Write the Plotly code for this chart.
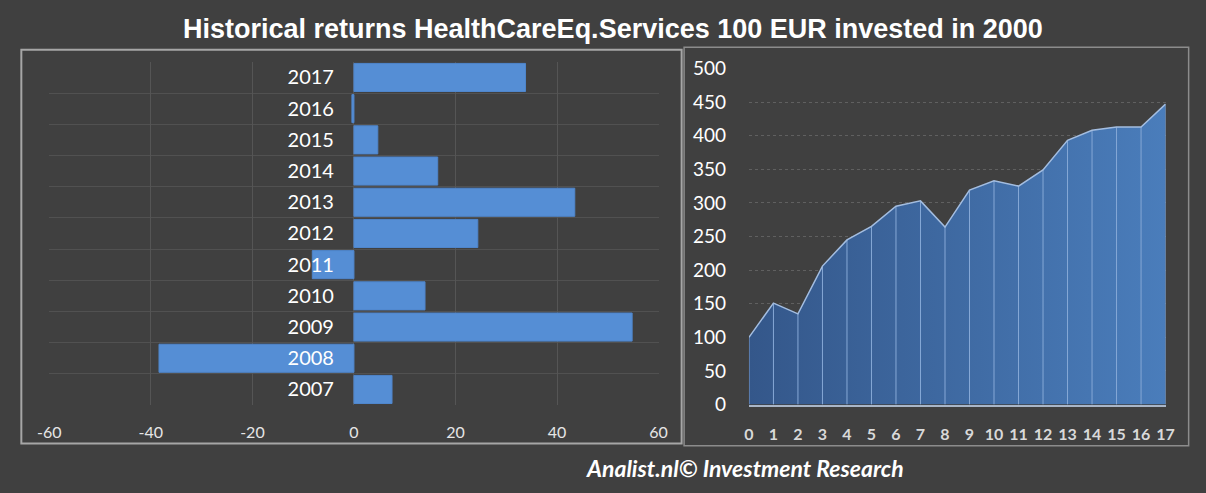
import plotly.graph_objects as go

# ---- data ----
years = ["2007", "2008", "2009", "2010", "2011", "2012", "2013", "2014", "2015", "2016", "2017"]
returns = [7.5, -38.4, 54.8, 14.0, -8.2, 24.4, 43.5, 16.5, 4.7, -0.4, 33.8]

periods = list(range(18))
values = [100, 151, 135, 206, 245, 265, 295, 303, 264, 319, 333, 325, 349, 393, 408, 413, 413, 447]

x_ticks_left = [-60, -40, -20, 0, 20, 40, 60]
y_ticks_right = [0, 50, 100, 150, 200, 250, 300, 350, 400, 450, 500]

title = "Historical returns HealthCareEq.Services 100 EUR invested in 2000"
footer = "Analist.nl© Investment Research"

# ---- layout geometry ----
W, H = 1206, 493
BG = "#404040"

def px_x(p):
    return p / W

def px_y(p):
    return 1 - p / H

lx0, lx1 = px_x(38), px_x(658)
ly0, ly1 = px_y(412.3), px_y(52.3)
rx0, rx1 = px_x(750), px_x(1174)
ry0, ry1 = px_y(411.8), px_y(59.2)

fig = go.Figure()

idx = list(range(len(years)))
fig.add_trace(go.Bar(
    x=returns, y=idx, orientation="h", width=0.9,
    marker=dict(color="#558ed5", line=dict(color="#4f86cc", width=1)),
    xaxis="x", yaxis="y", showlegend=False, hoverinfo="x+y",
))

fig.add_trace(go.Scatter(
    x=periods, y=values, mode="lines", fill="tozeroy",
    fillgradient=dict(type="horizontal",
                      colorscale=[[0, "#34578a"], [1, "#4a7dbb"]]),
    line=dict(color="#a3bde0", width=1.5),
    error_y=dict(type="data", symmetric=False, array=[0] * len(values),
                 arrayminus=values, color="#86a8d6", thickness=1, width=0),
    xaxis="x2", yaxis="y2", showlegend=False,
))

fig.update_layout(
    width=W, height=H,
    margin=dict(l=0, r=0, t=0, b=0),
    paper_bgcolor=BG, plot_bgcolor=BG,
    bargap=0.1,
    xaxis=dict(
        domain=[lx0, lx1], range=[-60, 60], anchor="y",
        tickvals=x_ticks_left, ticktext=[str(v) for v in x_ticks_left],
        showgrid=True, gridcolor="#555555", gridwidth=1, zeroline=False,
        showline=False, ticks="", ticklabelstandoff=16,
        tickfont=dict(family="Lato", size=16, color="#e6e6e6"),
        fixedrange=True,
    ),
    yaxis=dict(
        domain=[ly0, ly1], range=[-0.5, len(years) - 0.5],
        anchor="free", position=(lx0 + lx1) / 2,
        tickvals=idx, ticktext=years,
        showgrid=False, zeroline=False, showline=False, ticks="",
        ticklabelstandoff=20,
        tickfont=dict(family="Lato", size=20, color="#ffffff"),
        minor=dict(tickvals=[i - 0.5 for i in range(len(years) + 1)],
                   showgrid=True, gridcolor="#515151", gridwidth=1, ticks=""),
        layer="above traces",
    ),
    xaxis2=dict(
        domain=[rx0, rx1], range=[0, 17], anchor="y2",
        tickvals=periods, ticktext=[str(p) for p in periods],
        showgrid=False, zeroline=False,
        showline=True, linecolor="#a9b6c8", linewidth=1.5,
        ticks="", ticklabelstandoff=14,
        tickfont=dict(family="Lato", size=16, color="#d9d9d9", weight="bold"),
    ),
    yaxis2=dict(
        domain=[ry0, ry1], range=[0, 500], anchor="x2",
        tickvals=y_ticks_right, ticktext=[str(v) for v in y_ticks_right],
        showgrid=True, gridcolor="#606060", gridwidth=1, griddash="dot",
        zeroline=False, showline=False, ticks="", ticklabelstandoff=22,
        tickfont=dict(family="Lato", size=19, color="#ffffff"),
    ),
    shapes=[
        dict(type="rect", xref="paper", yref="paper",
             x0=px_x(9.5), x1=px_x(681.5), y0=px_y(452.5), y1=px_y(39.5),
             line=dict(color="#a6a6a6", width=2), layer="below"),
        dict(type="rect", xref="paper", yref="paper",
             x0=px_x(684), x1=px_x(1197.5), y0=px_y(455), y1=px_y(37),
             line=dict(color="#8c8c8c", width=1.5), layer="below"),
    ],
    annotations=[
        dict(text=title, xref="paper", yref="paper",
             x=px_x(612), y=px_y(18), xanchor="center", yanchor="middle",
             showarrow=False,
             font=dict(family="Liberation Sans", size=27, color="#ffffff", weight="bold")),
        dict(text=footer, xref="paper", yref="paper",
             x=px_x(746), y=px_y(478), xanchor="center", yanchor="middle",
             showarrow=False,
             font=dict(family="Lato", size=23, color="#ffffff", weight="bold", style="italic")),
    ],
)

fig.write_html("out.html", config={"displayModeBar": False},
               post_script="document.body.style.margin='0';document.body.style.overflow='hidden';")
